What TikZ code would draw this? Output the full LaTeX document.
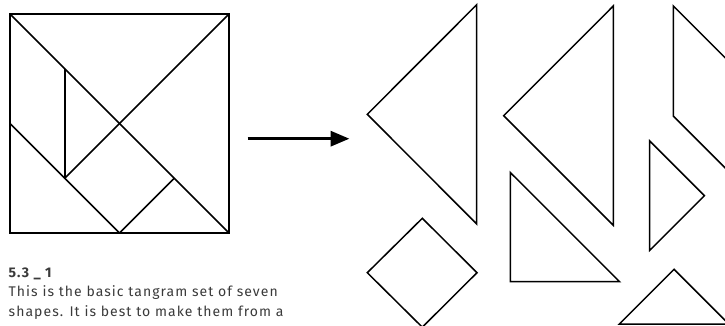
\documentclass[tikz,border=0pt]{standalone}
\usepackage{fontspec}
\setmainfont{Fira Sans}[LetterSpace=7.5]
\usetikzlibrary{arrows.meta}
\definecolor{txtgray}{HTML}{3A3A3A}
\tikzset{
  piece/.style={draw=black, line width=1.5pt, line join=miter},
  frame/.style={draw=black, line width=2pt},
  cut/.style={draw=black, line width=1.5pt},
  caption/.style={anchor=base west, inner sep=0pt, text=txtgray, font=\fontsize{14}{16}\selectfont},
  arrowline/.style={draw=black, line width=3.3pt, -{Triangle[length=19pt,width=15pt]}}
}
\begin{document}
\begin{tikzpicture}[x=1pt,y=-1pt]
\useasboundingbox (0,0) rectangle (725,326);
\begin{scope}
\clip (0,0) rectangle (725,326);
% tangram square
\coordinate (TL) at (10,14);
\coordinate (TR) at (229,14);
\coordinate (BR) at (229,233);
\coordinate (BL) at (10,233);
\coordinate (C) at (119.5,123.5);
\coordinate (Q1) at (64.75,68.75);
\coordinate (Q2) at (64.75,178.25);
\coordinate (LM) at (10,123.5);
\coordinate (BM) at (119.5,233);
\coordinate (Q3) at (174.25,178.25);
\draw[frame] (TL) rectangle (BR);
\draw[cut] (TL) -- (BR);
\draw[cut] (TR) -- (C);
\draw[cut] (Q1) -- (Q2);
\draw[cut] (LM) -- (Q2) -- (BM);
\draw[cut] (Q2) -- (C);
\draw[cut] (Q3) -- (BM);
% arrow
\coordinate (A1) at (247.5,138.7);
\coordinate (A2) at (349.5,138.7);
\draw[arrowline] (A1) -- (A2);
% pieces
\draw[piece] (476.7,4.7) -- (367.3,114.3) -- (476.7,224) -- cycle;
\draw[piece] (613.3,6) -- (503.7,115.7) -- (613.3,225.3) -- cycle;
\draw[piece] (673.3,6) -- (728.1,60.8) -- (728.1,170.8) -- (673.3,116) -- cycle;
\draw[piece] (649.7,141) -- (704.4,195.7) -- (649.7,250.4) -- cycle;
\draw[piece] (422.3,218.3) -- (477,272.7) -- (422.3,327.2) -- (367.3,272.7) -- cycle;
\draw[piece] (510.3,172.5) -- (510.3,281.7) -- (619.6,281.7) -- cycle;
\draw[piece] (674,269.3) -- (728.7,324) -- (619.3,324) -- cycle;
\end{scope}
% caption
\node[caption, font=\fontsize{14}{16}\selectfont\bfseries] (t0) at (8.5,277) {5.3 \_ 1};
\node[caption] (t1) at (8.5,296) {This is the basic tangram set of seven};
\node[caption] (t2) at (8.5,316) {shapes. It is best to make them from a};
\end{tikzpicture}
\end{document}
